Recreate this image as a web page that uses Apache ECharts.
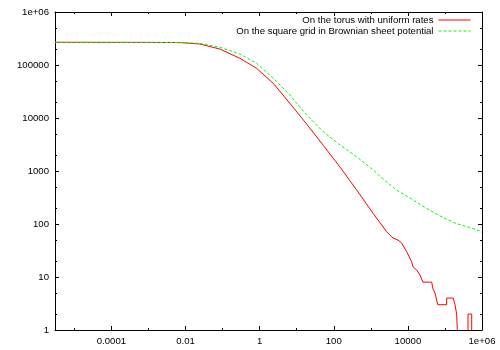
<!DOCTYPE html>
<html>
<head>
<meta charset="utf-8">
<script src="https://cdn.jsdelivr.net/npm/echarts@6/dist/echarts.min.js"></script>
<style>
html, body { margin: 0; padding: 0; background: #fff; }
#chart { width: 500px; height: 350px; }
</style>
</head>
<body>
<div id="chart"></div>
<script>
// legend names
var names = ['On the torus with uniform rates', 'On the square grid in Brownian sheet potential']

// red curve, [x, count]
var torus = [
  [3e-6, 268000], [0.001, 267000], [0.007, 265000], [0.0243, 249000], [0.0842, 200000],
  [0.292, 134000], [0.824, 86600], [2.32, 45200], [6.54, 18900], [18.5, 7710],
  [51.9, 3055], [147, 1190], [414, 438], [1160, 158], [2670, 71.6],
  [3950, 54.4], [5400, 49.9], [6790, 43.8], [9270, 30], [12600, 19.5],
  [13700, 15.6], [17300, 13.5], [21200, 10.9], [25500, 8], [43900, 8],
  [47500, 6], [53800, 5], [59800, 5], [64000, 3], [111000, 3],
  [111000, 4], [168000, 4], [187000, 3], [207000, 2], [225000, 0.5],
  [419000, 0.5], [419000, 2], [527000, 2], [527000, 0.5], [1e6, 0.5]
]

// green curve, [x, count]
var square = [
  [3e-6, 268000], [0.001, 267000], [0.007, 266000], [0.0243, 256000], [0.0842, 216000],
  [0.292, 161000], [0.824, 108000], [2.32, 56100], [6.54, 27200], [18.5, 11400],
  [51.9, 5520], [147, 3100], [414, 1860], [1160, 1045], [2560, 634],
  [5400, 420], [11400, 310], [28900, 205], [73400, 142], [187000, 104],
  [387000, 88.9], [885000, 73.8], [1e6, 69]
]

var xMajor = [1e-4, 1e-2, 1, 100, 1e4, 1e6]
var xMinor = [1e-5, 1e-3, 0.1, 10, 1000, 1e5]
var yMajor = [1, 10, 100, 1000, 1e4, 1e5, 1e6]
var yMinor = [2, 5, 20, 50, 200, 500, 2000, 5000, 2e4, 5e4, 2e5, 5e5]

var font = 'Liberation Sans, Arial, sans-serif'
var fontSize = 9.6

function fmt(v) {
  v = Number(v.toPrecision(6))
  if (v >= 1e6) return '1e+06'
  return String(v)
}

// one log axis; labels only on the main bottom / left ones
function axis(pos, min, max, ticks, len, line, labels) {
  var a = {
    type: 'log',
    logBase: 10,
    position: pos,
    min: min,
    max: max,
    axisLine: { show: line, onZero: false, lineStyle: { color: '#000', width: 1 } },
    axisTick: { show: true, inside: true, length: len, customValues: ticks, lineStyle: { color: '#000', width: 1 } },
    axisLabel: { show: false },
    splitLine: { show: false },
    minorTick: { show: false }
  }
  if (labels) {
    a.axisLabel = {
      show: true,
      customValues: ticks,
      formatter: fmt,
      color: '#000',
      fontFamily: font,
      fontSize: fontSize,
      margin: 6
    }
  }
  return a
}

var option = {
  animation: false,
  backgroundColor: '#fff',
  grid: { left: 55, right: 18, top: 12, bottom: 20, containLabel: false, outerBoundsMode: 'none' },
  legend: {
    data: names,
    orient: 'vertical',
    right: 29,
    top: 15,
    padding: 0,
    align: 'right',
    itemWidth: 32,
    itemHeight: 10,
    itemGap: 1,
    itemStyle: { opacity: 0 },
    lineStyle: { width: 1 },
    textStyle: { color: '#000', fontFamily: font, fontSize: fontSize }
  },
  xAxis: [
    axis('bottom', 3e-6, 1e6, xMajor, 4, true, true),
    axis('bottom', 3e-6, 1e6, xMinor, 2, false, false),
    axis('top', 3e-6, 1e6, xMajor, 4, true, false),
    axis('top', 3e-6, 1e6, xMinor, 2, false, false)
  ],
  yAxis: [
    axis('left', 1, 1e6, yMajor, 4, true, true),
    axis('left', 1, 1e6, yMinor, 2, false, false),
    axis('right', 1, 1e6, yMajor, 4, true, false),
    axis('right', 1, 1e6, yMinor, 2, false, false)
  ],
  series: [
    {
      name: names[0],
      type: 'line',
      data: torus,
      symbol: 'none',
      clip: true,
      lineStyle: { color: '#ff0000', width: 1 },
      itemStyle: { color: '#ff0000' }
    },
    {
      name: names[1],
      type: 'line',
      data: square,
      symbol: 'none',
      clip: true,
      lineStyle: { color: '#00ff00', width: 1, type: [3, 2] },
      itemStyle: { color: '#00ff00' }
    }
  ]
}

var chart = echarts.init(document.getElementById('chart'), null, { renderer: 'canvas' })
chart.setOption(option)
</script>
</body>
</html>
